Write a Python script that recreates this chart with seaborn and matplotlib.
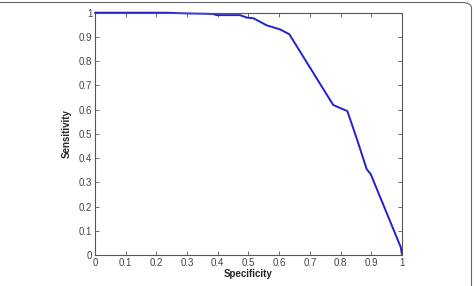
import matplotlib
matplotlib.use("Agg")
import matplotlib.pyplot as plt
import seaborn as sns
import pandas as pd
from matplotlib.patches import FancyBboxPatch

specificity = [0.0, 0.10, 0.23, 0.30, 0.385, 0.396, 0.472, 0.494, 0.516, 0.537,
               0.559, 0.603, 0.633, 0.776, 0.822, 0.854, 0.885, 0.898, 0.996, 1.0]
sensitivity = [1.0, 1.0, 1.0, 0.997, 0.995, 0.99, 0.99, 0.98, 0.977, 0.963,
               0.948, 0.931, 0.911, 0.619, 0.594, 0.475, 0.354, 0.334, 0.032, 0.0]
ticks = [0, 0.1, 0.2, 0.3, 0.4, 0.5, 0.6, 0.7, 0.8, 0.9, 1]
tick_labels = ["0", "0.1", "0.2", "0.3", "0.4", "0.5", "0.6", "0.7", "0.8", "0.9", "1"]

df = pd.DataFrame({"Specificity": specificity, "Sensitivity": sensitivity})

sns.set_style("white")
plt.rcParams['font.family'] = ['Liberation Sans', 'DejaVu Sans']

fig = plt.figure(figsize=(4.75, 2.86), dpi=100)
ax = fig.add_axes([95/475, 1 - 255/286, 307/475, 242.3/286])

sns.lineplot(data=df, x="Specificity", y="Sensitivity", ax=ax, color="#2222cc",
             linewidth=1.4, sort=False, estimator=None)
for ln in ax.get_lines():
    ln.set_clip_on(False)

ax.set_xlim(0, 1)
ax.set_ylim(0, 1)
ax.set_xticks(ticks)
ax.set_xticklabels(tick_labels)
ax.set_yticks(ticks)
ax.set_yticklabels(tick_labels)
ax.tick_params(direction="in", length=3, width=0.6, colors="#555555",
               labelcolor="#444444", labelsize=7, top=True, right=True,
               bottom=True, left=True, pad=2)
for s in ax.spines.values():
    s.set_color("#555555")
    s.set_linewidth(0.8)
ax.set_xlabel("Specificity", fontsize=7, fontweight="bold", labelpad=1)
ax.set_ylabel("Sensitivity", fontsize=7, fontweight="bold", labelpad=5)

border = FancyBboxPatch((-0.1, -0.1), 471.5/475 + 0.1, (1 - 2.5/286) + 0.1,
                        boxstyle="round,pad=0,rounding_size=0.02",
                        transform=fig.transFigure, fill=False,
                        edgecolor="#666666", linewidth=0.8, clip_on=False)
fig.patches.append(border)

fig.savefig("out.png", dpi=100)
